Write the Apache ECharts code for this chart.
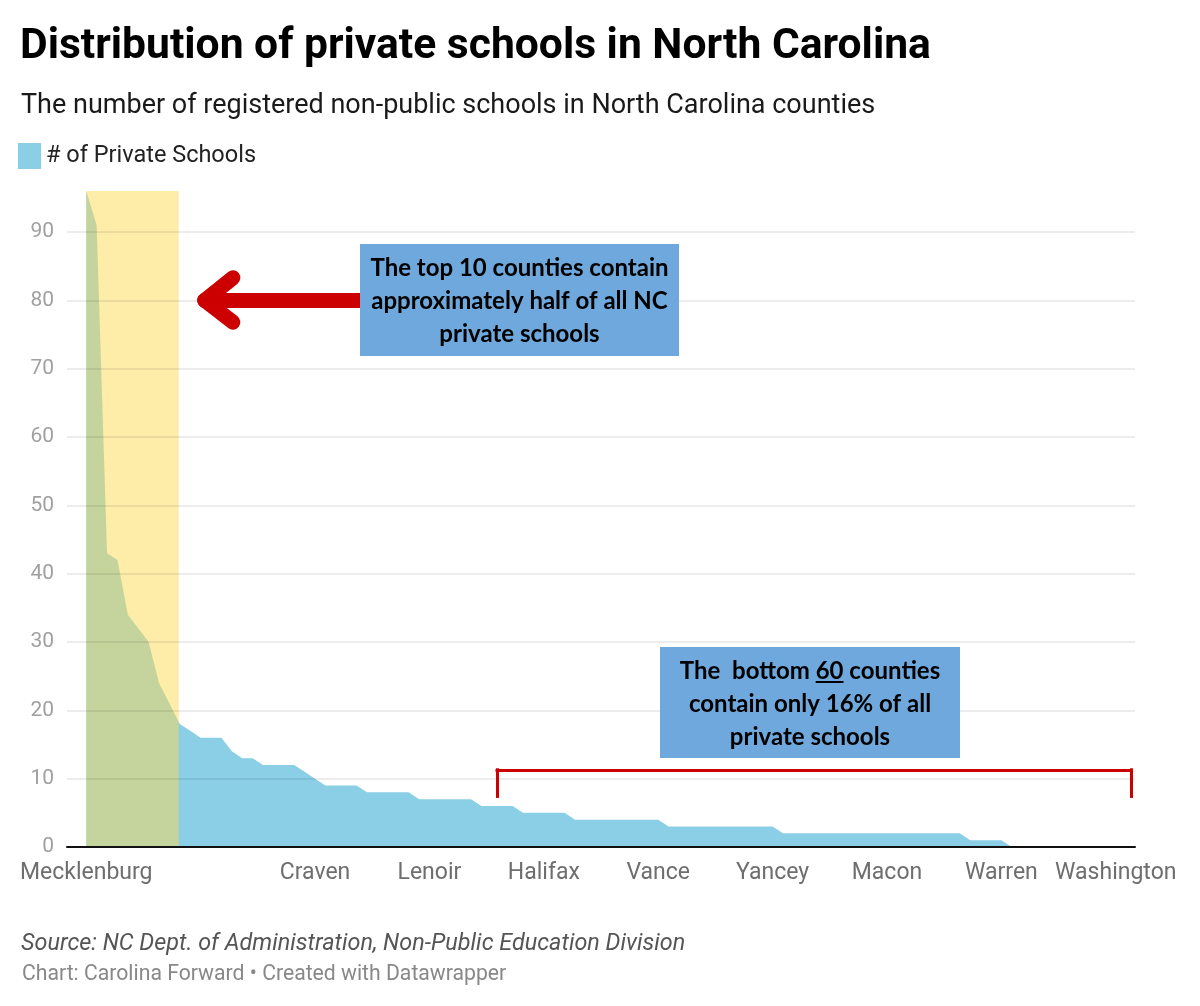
<!DOCTYPE html>
<html>
<head>
<meta charset="utf-8">
<script src="https://cdn.jsdelivr.net/npm/echarts@6/dist/echarts.min.js"></script>
<style>
  html, body { margin: 0; padding: 0; background: #fff; }
  #chart { width: 1200px; height: 1006px; }
</style>
</head>
<body>
<div id="chart"></div>
<script>
// ---- Data ----
// Number of registered non-public schools per county, sorted descending (100 counties)
const schoolCounts = [
  96, 91, 43, 42, 34, 32, 30, 24, 21, 18,
  17, 16, 16, 16, 14, 13, 13, 12, 12, 12,
  12, 11, 10, 9, 9, 9, 9, 8, 8, 8,
  8, 8, 7, 7, 7, 7, 7, 7, 6, 6,
  6, 6, 5, 5, 5, 5, 5, 4, 4, 4,
  4, 4, 4, 4, 4, 4, 3, 3, 3, 3,
  3, 3, 3, 3, 3, 3, 3, 2, 2, 2,
  2, 2, 2, 2, 2, 2, 2, 2, 2, 2,
  2, 2, 2, 2, 2, 1, 1, 1, 1, 0,
  0, 0, 0, 0, 0, 0, 0, 0, 0, 0
];
// Labelled counties on the x axis (rank index -> county name)
const labelIndex = [0, 22, 33, 44, 55, 66, 77, 88, 99];
const labelNames = ['Mecklenburg', 'Craven', 'Lenoir', 'Halifax', 'Vance', 'Yancey', 'Macon', 'Warren', 'Washington'];
const yTicks = [0, 10, 20, 30, 40, 50, 60, 70, 80, 90];
const yMax = 96;
const topBand = [0, 8.9];          // highlighted top-10 counties
const bracketX = [39.5, 100.5];    // bottom-60 bracket
const bracketY = [11.3, 7.4];
const arrowY = 80;
const arrowShaft = [26.5, 11.4];
const arrowArm = [14.1, 83.3, 76.8];

const seriesName = '# of Private Schools';
const blue = '#8ACFE5';
const red = '#CC0000';

const chart = echarts.init(document.getElementById('chart'), null, { renderer: 'canvas' });

function measure(text, font) {
  const c = document.createElement('canvas').getContext('2d');
  c.font = font;
  return c.measureText(text).width;
}

const annFont = 'bold 24px Lato';
const box2Line1 = 'The  bottom 60 counties';
const box2Cx = 810;
const l1w = measure(box2Line1, annFont);
const prefW = measure('The  bottom ', annFont);
const sixtyW = measure('60', annFont);
const ulX0 = box2Cx - l1w / 2 + prefW;

const option = {
  animation: false,
  textStyle: { fontFamily: 'Roboto' },
  title: [
    { text: 'Distribution of private schools in North Carolina', left: 15, top: 18,
      textStyle: { fontFamily: 'Roboto', fontWeight: 700, fontSize: 42.6, color: '#000', lineHeight: 48 } },
    { text: 'The number of registered non-public schools in North Carolina counties', left: 16, top: 85,
      textStyle: { fontFamily: 'Roboto', fontWeight: 400, fontSize: 27, color: '#1a1a1a', lineHeight: 32 } },
    { text: 'Source: NC Dept. of Administration, Non-Public Education Division', left: 16, top: 925,
      textStyle: { fontFamily: 'Roboto', fontStyle: 'italic', fontWeight: 400, fontSize: 23.4, color: '#555', lineHeight: 28 } },
    { text: 'Chart: Carolina Forward \u2022 Created with Datawrapper', left: 17, top: 958,
      textStyle: { fontFamily: 'Roboto', fontWeight: 400, fontSize: 21.2, color: '#888', lineHeight: 24 } }
  ],
  legend: {
    data: [seriesName], left: 18, top: 143, padding: 0, icon: 'rect',
    itemWidth: 23, itemHeight: 26, itemGap: 10, selectedMode: false,
    textStyle: { fontFamily: 'Roboto', fontSize: 23.5, color: '#222', padding: [0, 0, 0, 0] }
  },
  grid: { left: 67, right: 65, top: 191, bottom: 159, containLabel: false },
  xAxis: {
    type: 'value', min: -1.85, max: 100.85, z: 6,
    splitLine: { show: false },
    axisTick: { show: false },
    axisLine: { show: true, onZero: true, lineStyle: { color: '#111', width: 2 } },
    axisLabel: {
      customValues: labelIndex,
      formatter: v => { const k = labelIndex.indexOf(Math.round(v)); return k >= 0 ? labelNames[k] : ''; },
      fontFamily: 'Roboto', fontSize: 23, color: '#6e6e6e', margin: 15
    }
  },
  yAxis: {
    type: 'value', min: 0, max: yMax, interval: 10, z: 5,
    axisLine: { show: false }, axisTick: { show: false },
    splitLine: { show: true, showMaxLine: false, lineStyle: { color: 'rgba(0,0,0,0.1)', width: 1.5 } },
    axisLabel: {
      customValues: yTicks,
      fontFamily: 'Roboto', fontSize: 21, color: '#a0a0a0', margin: 13
    }
  },
  series: [
    {
      name: seriesName, type: 'line', z: 2,
      data: schoolCounts.map((v, i) => [i, v]),
      symbol: 'none', showSymbol: false,
      lineStyle: { width: 0, color: blue },
      itemStyle: { color: blue },
      areaStyle: { color: blue, opacity: 1 },
      silent: true
    },
    {
      name: 'band', type: 'line', z: 3, data: [], silent: true,
      markArea: {
        silent: true, z: 3,
        itemStyle: { color: 'rgba(253,217,83,0.5)' },
        data: [[{ xAxis: topBand[0], yAxis: 0 }, { xAxis: topBand[1], yAxis: yMax }]]
      }
    },
    {
      name: 'annotations', type: 'line', z: 7, data: [], silent: true,
      markLine: {
        silent: true, z: 7, symbol: ['none', 'none'], label: { show: false },
        lineStyle: { color: red, width: 3, type: 'solid', cap: 'square' },
        data: [
          [{ coord: [bracketX[0], bracketY[0]] }, { coord: [bracketX[1], bracketY[0]] }],
          [{ coord: [bracketX[0], bracketY[0]] }, { coord: [bracketX[0], bracketY[1]] }],
          [{ coord: [bracketX[1], bracketY[0]] }, { coord: [bracketX[1], bracketY[1]] }],
          [{ coord: [arrowShaft[0], arrowY], lineStyle: { width: 15, cap: 'round' } }, { coord: [arrowShaft[1], arrowY] }],
          [{ coord: [arrowShaft[1], arrowY], lineStyle: { width: 15, cap: 'round' } }, { coord: [arrowArm[0], arrowArm[1]] }],
          [{ coord: [arrowShaft[1], arrowY], lineStyle: { width: 15, cap: 'round' } }, { coord: [arrowArm[0], arrowArm[2]] }]
        ]
      }
    }
  ],
  graphic: [
    { type: 'rect', z: 20, shape: { x: 360, y: 244, width: 319, height: 112 }, style: { fill: '#6FA8DC' } },
    { type: 'text', z: 21, x: 519.5, y: 301,
      style: { text: 'The top 10 counties contain\napproximately half of all NC\nprivate schools',
        font: annFont, fill: '#000', textAlign: 'center', textVerticalAlign: 'middle', lineHeight: 33 } },
    { type: 'rect', z: 20, shape: { x: 660, y: 647, width: 300, height: 111 }, style: { fill: '#6FA8DC' } },
    { type: 'text', z: 21, x: box2Cx, y: 704,
      style: { text: box2Line1 + '\ncontain only 16% of all\nprivate schools',
        font: annFont, fill: '#000', textAlign: 'center', textVerticalAlign: 'middle', lineHeight: 33 } },
    { type: 'line', z: 21, shape: { x1: ulX0, y1: 682, x2: ulX0 + sixtyW, y2: 682 }, style: { stroke: '#000', lineWidth: 2 } }
  ]
};
chart.setOption(option);
</script>
</body>
</html>
